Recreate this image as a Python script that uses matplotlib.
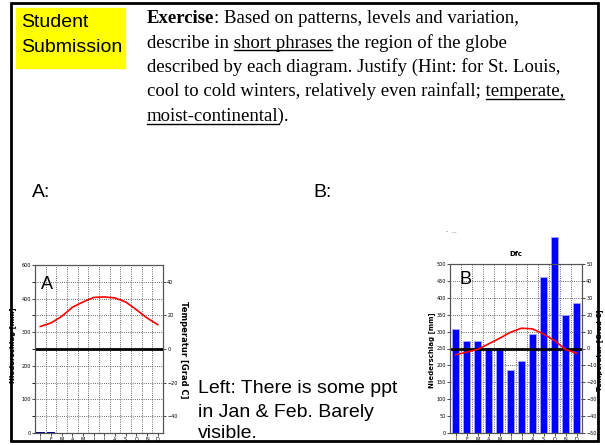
import numpy as np
import matplotlib
matplotlib.use('Agg')
import matplotlib.pyplot as plt
from matplotlib.patches import Rectangle
from matplotlib.lines import Line2D

# climate diagram data
months = ['J', 'F', 'M', 'A', 'M', 'J', 'J', 'A', 'S', 'O', 'N', 'D']
temp_a = [13.4, 15.5, 19.4, 24.8, 28, 30.7, 31, 30.4, 28, 23.4, 18.5, 14.5]
precip_a = [2, 2, 0, 0, 0, 0, 0, 0, 0, 0, 0, 0]
temp_b = [-3.7, -2.2, -0.5, 2.7, 6, 9.6, 12, 11.6, 8.6, 4.7, -0.6, -2.8]
precip_b = [308, 273, 273, 252, 252, 186, 212, 294, 462, 580, 350, 384]

precip_ticks_a = [0, 100, 200, 300, 400, 500]
precip_labels_a = ['0', '100', '200', '300', '400', '600']
temp_ticks_a = [-40, -20, 0, 20, 40]
precip_ticks_b = list(range(0, 501, 50))
temp_ticks_b = list(range(-50, 51, 10))

exercise_lines = [
    'Exercise: Based on patterns, levels and variation,',
    'describe in short phrases the region of the globe',
    'described by each diagram. Justify (Hint: for St. Louis,',
    'cool to cold winters, relatively even rainfall; temperate,',
    'moist-continental).',
]
underlined = [None, 'short phrases', None, 'temperate,', 'moist-continental']
note_lines = ['Left: There is some ppt', 'in Jan & Feb. Barely', 'visible.']

W, H = 605, 445
fig = plt.figure(figsize=(W / 100, H / 100), dpi=100)
renderer = fig.canvas.get_renderer()


def fx(x):
    return x / W


def fy(y):
    return 1 - y / H


def add_ax(x0, y0, x1, y1):
    return fig.add_axes([x0 / W, 1 - y1 / H, (x1 - x0) / W, (y1 - y0) / H])


def text_width(s, **kw):
    t = fig.text(0, 0, s, **kw)
    w = t.get_window_extent(renderer).width
    t.remove()
    return w


# --- header -------------------------------------------------------------
fig.add_artist(Rectangle((fx(16), fy(68)), 109 / W, 60 / H,
                         transform=fig.transFigure, color='#ffff00', zorder=1))
sans = dict(family='Liberation Sans', fontsize=14, va='baseline')
fig.text(fx(21), fy(27), 'Student', zorder=2, **sans)
fig.text(fx(21), fy(52), 'Submission', zorder=2, **sans)

serif = dict(family='Liberation Serif', fontsize=13.5, va='baseline')
x0 = 147
baselines = [23, 47.5, 72, 96.5, 121]
for line, ul, yb in zip(exercise_lines, underlined, baselines):
    if line.startswith('Exercise'):
        fig.text(fx(x0), fy(yb), 'Exercise', fontweight='bold', **serif)
        wb = text_width('Exercise', fontweight='bold', **serif)
        fig.text(fx(x0 + wb), fy(yb), line[len('Exercise'):], **serif)
        continue
    fig.text(fx(x0), fy(yb), line, **serif)
    if ul:
        i = line.index(ul)
        pre = line[:i]
        sp = text_width('a b', **serif) - text_width('ab', **serif)
        start = text_width(pre.rstrip(), **serif) + sp * (len(pre) - len(pre.rstrip())) if pre else 0
        end = text_width(line[:i + len(ul)], **serif)
        fig.add_artist(Line2D([fx(x0 + start), fx(x0 + end)], [fy(yb + 2.5), fy(yb + 2.5)],
                              transform=fig.transFigure, color='black', lw=1))

fig.text(fx(32), fy(197), 'A:', **sans)
fig.text(fx(313), fy(197), 'B:', **sans)

for line, yb in zip(note_lines, [393, 417, 438]):
    fig.text(fx(198), fy(yb), line, **sans)

x = np.arange(12) + 0.5
tick_font = 3.5
grid_kw = dict(ls=':', color='#333333', lw=0.6)

# --- diagram A ----------------------------------------------------------
axA = add_ax(35, 265, 163, 433)
axA.set_xlim(0, 12)
axA.set_ylim(0, 500)
axA.bar(x, precip_a, width=0.8, color='#000080', zorder=2)
axA.set_yticks(precip_ticks_a, precip_labels_a)
axA.set_yticks(np.arange(50, 500, 100), minor=True)
axA.set_xticks(x, months)
axA.set_xticks(np.arange(1, 12), minor=True)
axA.xaxis.grid(True, which='minor', **grid_kw)
axA.yaxis.grid(True, which='both', **grid_kw)
axA.tick_params(labelsize=tick_font, length=2, width=0.5, pad=1)
axA.tick_params(axis='x', which='minor', length=0)
axA.text(0.6, 428, 'A', fontsize=13, family='Liberation Sans', va='baseline')
tA = axA.twinx()
tA.set_ylim(-50, 50)
tA.set_yticks(temp_ticks_a)
tA.tick_params(labelsize=tick_font, length=2, width=0.5, pad=1)
tA.axhline(0, color='black', lw=2)
tA.plot(x, temp_a, color='red', lw=1.2)
for a in (axA, tA):
    for s in a.spines.values():
        s.set_color('#555555')
        s.set_linewidth(0.8)

fig.text(fx(13), fy(345), 'Niederschlag [mm]', rotation=90, fontsize=5,
         fontweight='bold', ha='center', va='center')
fig.text(fx(183), fy(350), 'Temperatur [Grad C]', rotation=-90, fontsize=6,
         fontweight='bold', ha='center', va='center')

# --- diagram B ----------------------------------------------------------
axB = add_ax(450, 264, 582, 433)
axB.set_xlim(0, 12)
axB.set_ylim(0, 500)
axB.bar(x, precip_b, width=0.65, color='#0000ff', edgecolor='#a8a8ff',
        lw=0.6, zorder=2, clip_on=False)
axB.set_yticks(precip_ticks_b)
axB.set_xticks(x, months)
axB.set_xticks(np.arange(1, 12), minor=True)
axB.xaxis.grid(True, which='minor', **grid_kw)
axB.yaxis.grid(True, which='major', **grid_kw)
axB.set_axisbelow(True)
axB.tick_params(labelsize=tick_font, length=2, width=0.5, pad=1)
axB.tick_params(axis='x', which='minor', length=0)
axB.text(0.9, 442, 'B', fontsize=13, family='Liberation Sans', va='baseline')
axB.set_title('Dfc', fontsize=5, fontweight='bold', pad=6)
tB = axB.twinx()
tB.set_ylim(-50, 50)
tB.set_yticks(temp_ticks_b)
tB.tick_params(labelsize=tick_font, length=2, width=0.5, pad=1)
tB.axhline(0, color='black', lw=2)
tB.plot(x, temp_b, color='red', lw=1.2)
for a in (axB, tB):
    for s in a.spines.values():
        s.set_color('#555555')
        s.set_linewidth(0.8)

fig.text(fx(432), fy(350), 'Niederschlag [mm]', rotation=90, fontsize=5,
         fontweight='bold', ha='center', va='center')
fig.text(fx(600), fy(350), 'Temperatur [Grad C]', rotation=90, fontsize=5,
         fontweight='bold', ha='center', va='center')
fig.text(fx(446), fy(233), '-  ...', fontsize=4, color='#444444')

# slide frame
fig.add_artist(Rectangle((fx(11), fy(441)), 587 / W, 438 / H, transform=fig.transFigure,
                         fill=False, ec='black', lw=2, zorder=20))

fig.savefig('out.png', dpi=100)
